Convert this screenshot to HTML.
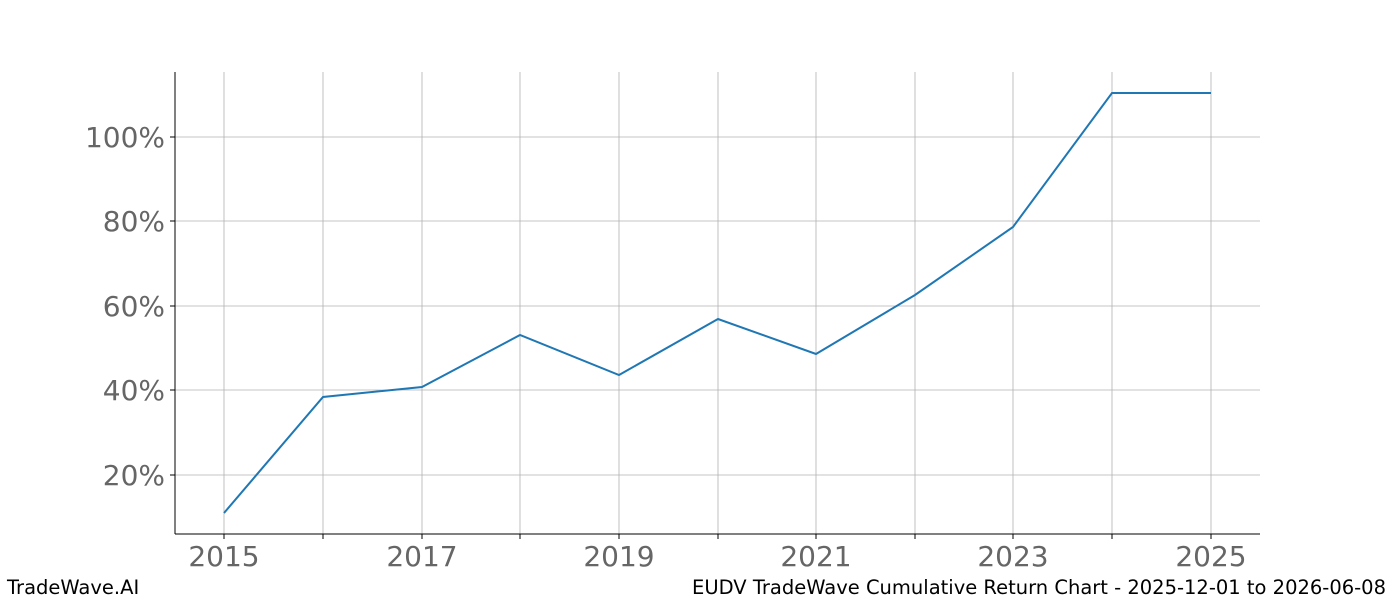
<!DOCTYPE html>
<html><head><meta charset="utf-8"><style>
body{margin:0;background:#fff;}
svg text{font-family:"DejaVu Sans","Liberation Sans",sans-serif;}
</style></head><body>
<svg width="1400" height="600" xmlns="http://www.w3.org/2000/svg">
<rect width="1400" height="600" fill="#fff"/>
<g stroke="#b0b0b0" stroke-width="0.8">
<line x1="224" y1="72" x2="224" y2="534"/><line x1="323" y1="72" x2="323" y2="534"/>
<line x1="422" y1="72" x2="422" y2="534"/><line x1="520" y1="72" x2="520" y2="534"/>
<line x1="619" y1="72" x2="619" y2="534"/><line x1="718" y1="72" x2="718" y2="534"/>
<line x1="816" y1="72" x2="816" y2="534"/><line x1="915" y1="72" x2="915" y2="534"/>
<line x1="1013" y1="72" x2="1013" y2="534"/><line x1="1112" y1="72" x2="1112" y2="534"/>
<line x1="1211" y1="72" x2="1211" y2="534"/>
<line x1="175" y1="137" x2="1260" y2="137"/><line x1="175" y1="221" x2="1260" y2="221"/>
<line x1="175" y1="306" x2="1260" y2="306"/><line x1="175" y1="390" x2="1260" y2="390"/>
<line x1="175" y1="475" x2="1260" y2="475"/>
</g>
<g stroke="#000" stroke-width="1">
<line x1="175" y1="72" x2="175" y2="534"/><line x1="175" y1="534" x2="1260" y2="534"/>
<line x1="170" y1="137" x2="175" y2="137"/><line x1="170" y1="221" x2="175" y2="221"/>
<line x1="170" y1="306" x2="175" y2="306"/><line x1="170" y1="390" x2="175" y2="390"/>
<line x1="170" y1="475" x2="175" y2="475"/>
<line x1="224" y1="534" x2="224" y2="539"/><line x1="323" y1="534" x2="323" y2="539"/>
<line x1="422" y1="534" x2="422" y2="539"/><line x1="520" y1="534" x2="520" y2="539"/>
<line x1="619" y1="534" x2="619" y2="539"/><line x1="718" y1="534" x2="718" y2="539"/>
<line x1="816" y1="534" x2="816" y2="539"/><line x1="915" y1="534" x2="915" y2="539"/>
<line x1="1013" y1="534" x2="1013" y2="539"/><line x1="1112" y1="534" x2="1112" y2="539"/>
<line x1="1211" y1="534" x2="1211" y2="539"/>
</g>
<polyline fill="none" stroke="#1f77b4" stroke-width="2" points="224,513 323,397 422,387 520,335 619,375 718,319 816,354 915,295 1013,227 1112,93 1211,93"/>
<g fill="#666" font-size="28" text-anchor="end">
<text x="165" y="147">100%</text><text x="165" y="231">80%</text>
<text x="165" y="316">60%</text><text x="165" y="400">40%</text><text x="165" y="485">20%</text>
</g>
<g fill="#666" font-size="28" text-anchor="middle">
<text x="224" y="566">2015</text><text x="422" y="566">2017</text><text x="619" y="566">2019</text>
<text x="816" y="566">2021</text><text x="1013" y="566">2023</text><text x="1211" y="566">2025</text>
</g>
<text x="7" y="594" font-size="19.5" fill="#000">TradeWave.AI</text>
<text x="1386" y="594" font-size="19.5" fill="#000" text-anchor="end">EUDV TradeWave Cumulative Return Chart - 2025-12-01 to 2026-06-08</text>
</svg>
</body></html>
